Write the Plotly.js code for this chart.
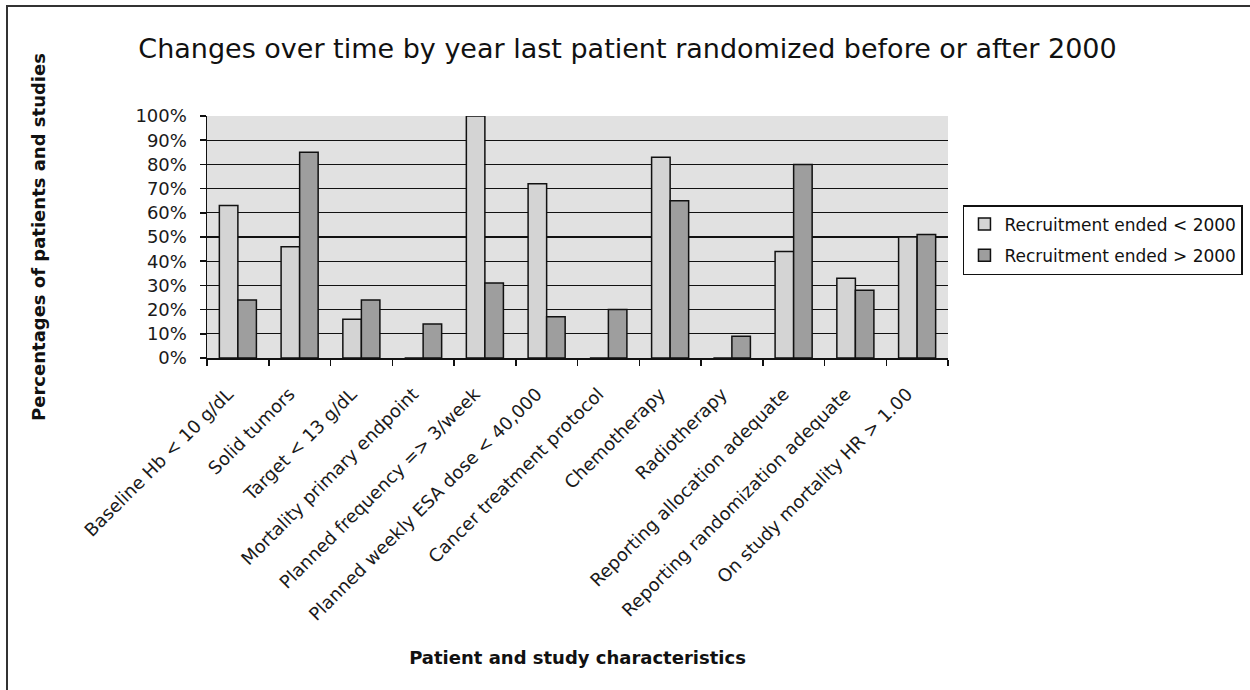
<!DOCTYPE html>
<html>
<head>
<meta charset="utf-8">
<script src="https://cdn.plot.ly/plotly-3.0.1.min.js"></script>
<style>
html, body { margin: 0; padding: 0; background: #fff; overflow: hidden; }
#wrap { position: relative; width: 1250px; height: 690px; }
#chart { width: 1250px; height: 690px; }
#frame { position: absolute; left: 6px; top: 5px; right: 0; bottom: 0;
         border-left: 2px solid #333; border-top: 2px solid #333; pointer-events: none; }
</style>
</head>
<body>
<div id="wrap">
  <div id="chart"></div>
  <div id="frame"></div>
</div>
<script>
var categories = [
  "Baseline Hb < 10 g/dL",
  "Solid tumors",
  "Target < 13 g/dL",
  "Mortality primary endpoint",
  "Planned frequency => 3/week",
  "Planned weekly ESA dose < 40,000",
  "Cancer treatment protocol",
  "Chemotherapy",
  "Radiotherapy",
  "Reporting allocation adequate",
  "Reporting randomization adequate",
  "On study mortality HR > 1.00"
];
var before2000 = [63, 46, 16, 0, 100, 72, 0, 83, 0, 44, 33, 50];
var after2000  = [24, 85, 24, 14, 31, 17, 20, 65, 9, 80, 28, 51];
var seriesNames = ["Recruitment ended < 2000", "Recruitment ended > 2000"];
var yTickVals = [0, 10, 20, 30, 40, 50, 60, 70, 80, 90, 100];
var yTickText = ["0%", "10%", "20%", "30%", "40%", "50%", "60%", "70%", "80%", "90%", "100%"];

var FONT = "DejaVu Sans, Arial, sans-serif";

var traces = [
  {
    type: "bar", name: seriesNames[0], x: categories, y: before2000,
    marker: { color: "#d4d4d4", line: { color: "#111", width: 1.5 } },
    legendgroup: "a", hoverinfo: "x+y"
  },
  {
    type: "bar", name: seriesNames[1], x: categories, y: after2000,
    marker: { color: "#9e9e9e", line: { color: "#111", width: 1.5 } },
    legendgroup: "b", hoverinfo: "x+y"
  }
];

var layout = {
  width: 1250, height: 690,
  margin: { l: 207, r: 302, t: 116, b: 332, pad: 0, autoexpand: false },
  paper_bgcolor: "#ffffff",
  plot_bgcolor: "#e1e1e1",
  barmode: "group",
  bargap: 0.4,
  bargroupgap: 0,
  font: { family: FONT, color: "#1a1a1a", size: 17 },
  title: {
    text: "Changes over time by year last patient randomized before or after 2000",
    font: { family: FONT, size: 27, color: "#111" },
    xref: "container", x: 0.502, xanchor: "center",
    yref: "container", y: 0.93, yanchor: "middle"
  },
  xaxis: {
    type: "category",
    tickangle: -45,
    tickson: "boundaries",
    ticks: "outside", ticklen: 6, tickcolor: "#111", tickwidth: 1.5,
    ticklabelstandoff: 17,
    ticklabelshift: -10,
    showline: true, linecolor: "#111", linewidth: 1.5,
    showgrid: false,
    tickfont: { family: FONT, size: 18, color: "#1a1a1a" },
    automargin: false,
    title: {
      text: "<b>Patient and study characteristics</b>",
      font: { family: FONT, size: 18, color: "#111" },
      standoff: 27
    }
  },
  yaxis: {
    range: [0, 100],
    tickmode: "array",
    tickvals: yTickVals,
    ticktext: yTickText,
    ticks: "outside", ticklen: 6, tickcolor: "#111", tickwidth: 1.5,
    ticklabelstandoff: 9,
    showline: true, linecolor: "#111", linewidth: 1.5,
    showgrid: true, gridcolor: "#111", gridwidth: 1.2,
    zeroline: false,
    tickfont: { family: FONT, size: 18, color: "#1a1a1a" },
    automargin: false,
    title: {
      text: "<b>Percentages of patients and studies</b>",
      font: { family: FONT, size: 18, color: "#111" },
      standoff: 85
    }
  },
  legend: {
    x: 1.0202, xanchor: "left",
    y: 0.632, yanchor: "top",
    bgcolor: "#ffffff",
    bordercolor: "#111", borderwidth: 1.5,
    font: { family: FONT, size: 17, color: "#111" },
    tracegroupgap: 6,
    traceorder: "grouped"
  },
  showlegend: true
};

Plotly.newPlot("chart", traces, layout, { displayModeBar: false, staticPlot: true });
</script>
</body>
</html>
